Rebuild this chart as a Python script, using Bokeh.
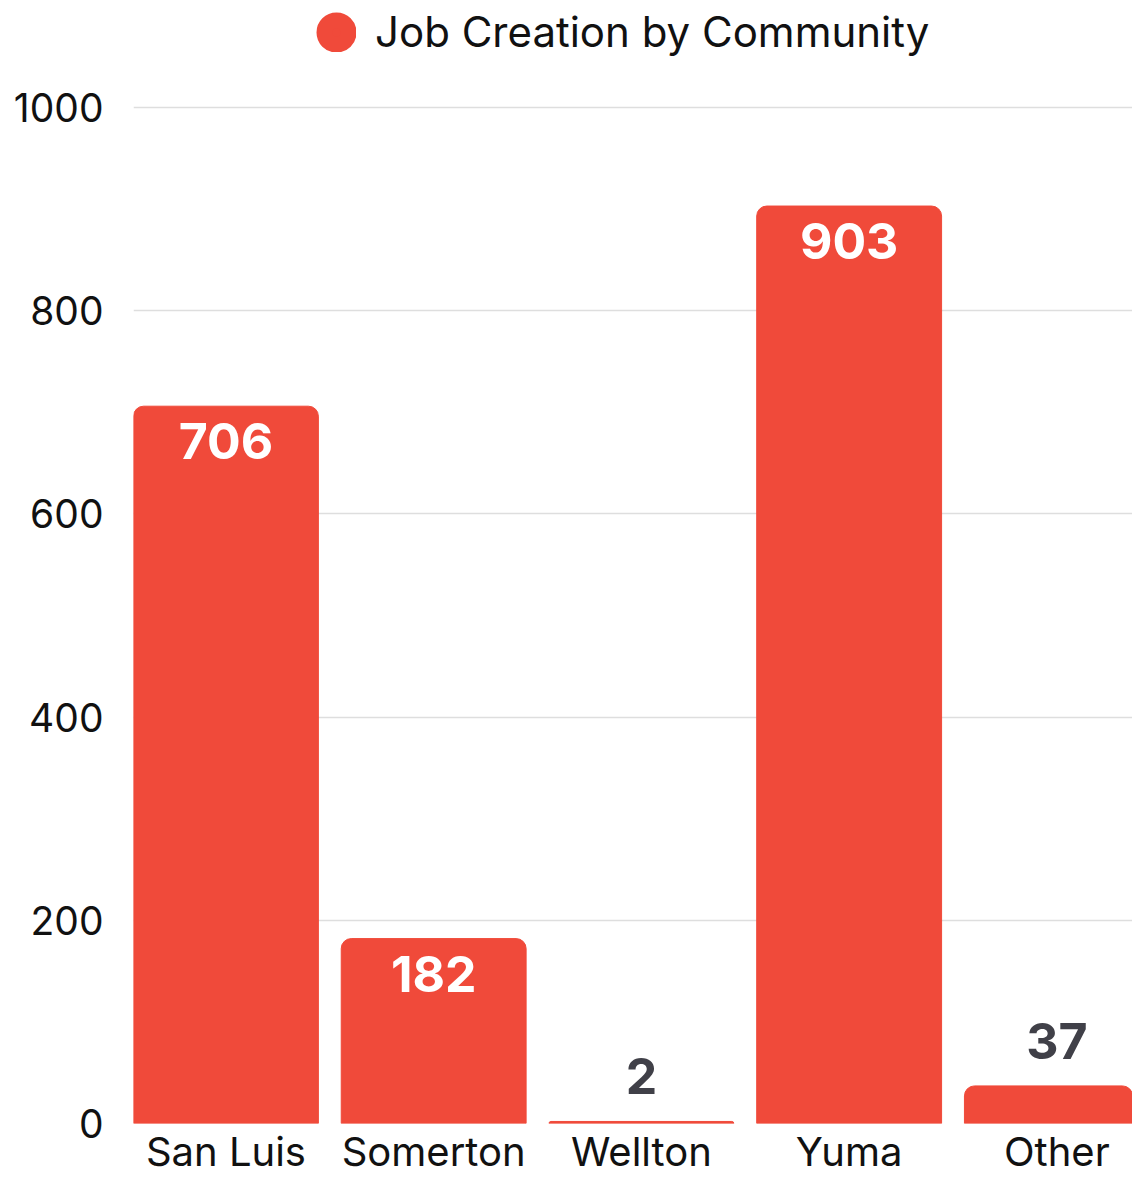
from bokeh.plotting import figure
from bokeh.models import ColumnDataSource, FixedTicker, Legend, LegendItem, Range1d
from bokeh.embed import file_html
from bokeh.resources import INLINE
from bokeh.core.properties import value

categories = ["San Luis", "Somerton", "Wellton", "Yuma", "Other"]
jobs = [706, 182, 2, 903, 37]
y_ticks = [0, 200, 400, 600, 800, 1000]
series_name = "Job Creation by Community"

BAR = "#f04a3a"
FONT = "Inter"

xs = list(range(len(categories)))
inside = [v > 100 for v in jobs]
src = ColumnDataSource(dict(x=xs, top=jobs))
src_in = ColumnDataSource(dict(x=[x for x, f in zip(xs, inside) if f],
                               y=[v for v, f in zip(jobs, inside) if f],
                               label=[str(v) for v, f in zip(jobs, inside) if f]))
src_out = ColumnDataSource(dict(x=[x for x, f in zip(xs, inside) if not f],
                                y=[v for v, f in zip(jobs, inside) if not f],
                                label=[str(v) for v, f in zip(jobs, inside) if not f]))

p = figure(width=1132, height=1178, output_backend="svg", toolbar_location=None,
           x_range=Range1d(-0.445, 4.364), y_range=Range1d(0, 1105.3),
           min_border_left=133, min_border_right=0, min_border_top=0, min_border_bottom=55)
p.outline_line_color = None
p.background_fill_color = "white"
p.border_fill_color = "white"

p.vbar(x="x", top="top", width=0.89, source=src, color=BAR,
       border_radius=(10, 10, 0, 0))

p.text(x="x", y="y", text="label", source=src_in, text_color="white",
       text_font=value(FONT), text_font_size="50px", text_font_style="bold",
       text_align="center", text_baseline="top", y_offset=17)
p.text(x="x", y="y", text="label", source=src_out, text_color="#404048",
       text_font=value(FONT), text_font_size="50px", text_font_style="bold",
       text_align="center", text_baseline="bottom", y_offset=-27)

# axes
p.xaxis.ticker = FixedTicker(ticks=xs)
p.xaxis.major_label_overrides = {i: c for i, c in enumerate(categories)}
p.yaxis.ticker = FixedTicker(ticks=y_ticks)
for ax in (p.xaxis[0], p.yaxis[0]):
    ax.axis_line_color = None
    ax.major_tick_line_color = None
    ax.minor_tick_line_color = None
    ax.major_tick_out = 0
    ax.major_tick_in = 0
    ax.major_label_text_font = FONT
    ax.major_label_text_color = "#111111"
p.xaxis.major_label_text_font_size = "40px"
p.yaxis.major_label_text_font_size = "39px"
p.xaxis.major_label_standoff = 3
p.yaxis.major_label_standoff = 30

p.xgrid.grid_line_color = None
p.ygrid.grid_line_color = "#dedede"
p.ygrid.grid_line_width = 1.5

# legend
dummy = p.scatter(x=[float("nan")], y=[float("nan")], marker="circle", size=16,
                  fill_color=BAR, line_color=BAR, line_width=24)
legend = Legend(items=[LegendItem(label=series_name, renderers=[dummy])],
                location=(183, 1066), orientation="horizontal",
                glyph_width=40, glyph_height=40, label_standoff=19,
                label_text_font=FONT, label_text_font_size="42px",
                label_text_color="#111111", label_text_baseline="middle",
                background_fill_alpha=0, border_line_color=None,
                padding=13, margin=0)
p.add_layout(legend)

open("out.html", "w").write(file_html(p, INLINE))
